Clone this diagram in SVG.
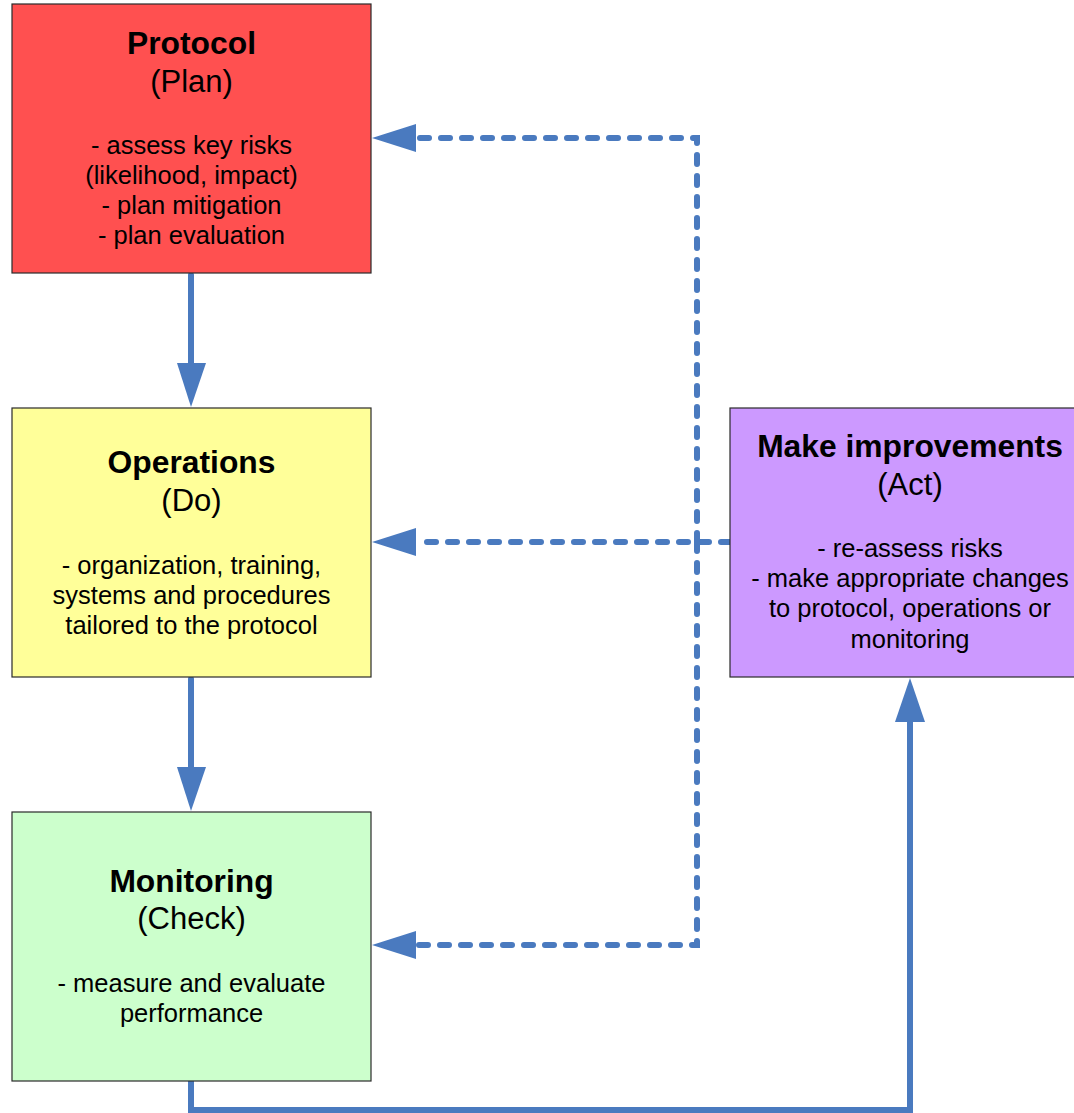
<svg xmlns="http://www.w3.org/2000/svg" width="1074" height="1113" viewBox="0 0 1074 1113">
<style>
.box{stroke:#2a2a2a;stroke-width:1.2}
text{font-family:"Liberation Sans",Arial,sans-serif;text-anchor:middle;fill:#000}
.t{font-size:31.8px;font-weight:bold}
.s{font-size:31px}
.b{font-size:25.5px}
.solid{fill:none;stroke:#4a7abf;stroke-width:6;stroke-linecap:round;stroke-linejoin:miter}
.dash{fill:none;stroke:#4a7abf;stroke-width:6;stroke-linecap:round;stroke-dasharray:9 12}
.head{fill:#4a7abf}
</style>
<rect width="1074" height="1113" fill="#fff"/>
<g id="connectors">
<path class="dash" d="M730,542 H418"/>
<path class="dash" d="M697,542 V138 H418"/>
<path class="dash" d="M697,542 V945 H418"/>
<polygon class="head" points="372,138 416,124 416,152"/>
<polygon class="head" points="372,542 416,528 416,556"/>
<polygon class="head" points="372,945 416,931 416,959"/>
<path class="solid" d="M191,275 V366"/>
<polygon class="head" points="177,363 206,363 191,407"/>
<path class="solid" d="M191,679 V770"/>
<polygon class="head" points="177,767 206,767 191,811"/>
<path class="solid" d="M191,1081 V1110 H910 V718"/>
<polygon class="head" points="895,722 925,722 910,678"/>
</g>
<g id="protocol">
<rect class="box" x="12" y="4" width="359" height="269" fill="#ff5050"/>
<text class="t" x="191.5" y="54">Protocol</text>
<text class="s" x="191.5" y="92">(Plan)</text>
<text class="b" x="191.5" y="154">- assess key risks</text>
<text class="b" x="191.5" y="184">(likelihood, impact)</text>
<text class="b" x="191.5" y="214">- plan mitigation</text>
<text class="b" x="191.5" y="244">- plan evaluation</text>
</g>
<g id="operations">
<rect class="box" x="12" y="408" width="359" height="269" fill="#ffff99"/>
<text class="t" x="191.5" y="473">Operations</text>
<text class="s" x="191.5" y="511">(Do)</text>
<text class="b" x="191.5" y="574">- organization, training,</text>
<text class="b" x="191.5" y="604">systems and procedures</text>
<text class="b" x="191.5" y="634">tailored to the protocol</text>
</g>
<g id="monitoring">
<rect class="box" x="12" y="812" width="359" height="269" fill="#ccffcc"/>
<text class="t" x="191.5" y="892">Monitoring</text>
<text class="s" x="191.5" y="929">(Check)</text>
<text class="b" x="191.5" y="992">- measure and evaluate</text>
<text class="b" x="191.5" y="1022">performance</text>
</g>
<g id="improvements">
<rect class="box" x="730" y="408" width="360" height="269" fill="#cc99ff"/>
<text class="t" x="910" y="457">Make improvements</text>
<text class="s" x="910" y="495">(Act)</text>
<text class="b" x="910" y="557">- re-assess risks</text>
<text class="b" x="910" y="587">- make appropriate changes</text>
<text class="b" x="910" y="617">to protocol, operations or</text>
<text class="b" x="910" y="648">monitoring</text>
</g>
</svg>
